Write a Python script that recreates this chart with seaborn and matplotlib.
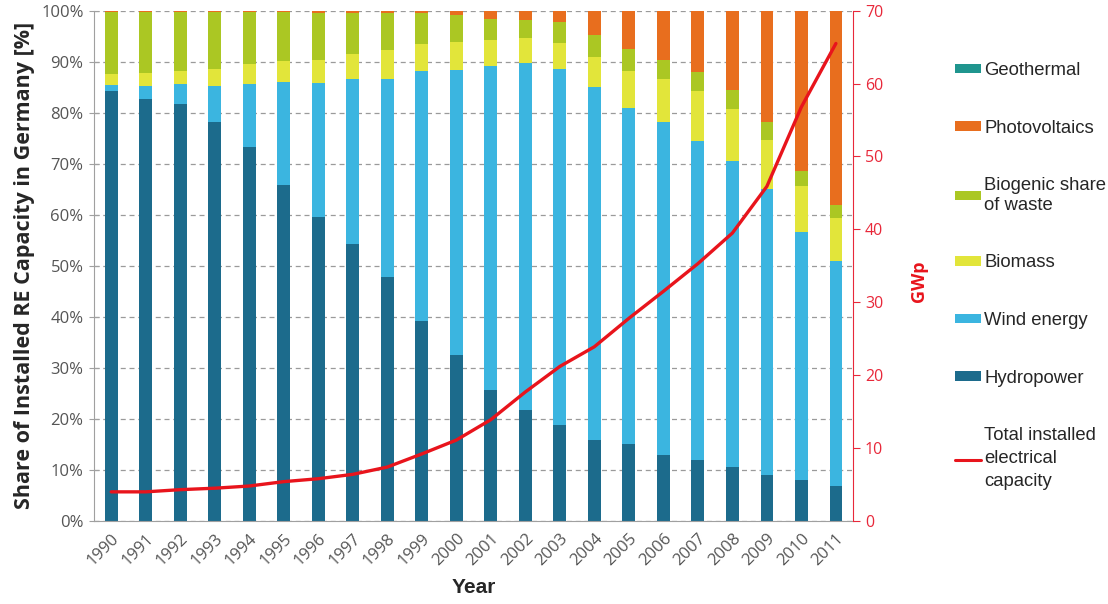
import numpy as np
import pandas as pd
import matplotlib
matplotlib.use('Agg')
import matplotlib.pyplot as plt
import seaborn as sns
from matplotlib.patches import Patch
from matplotlib.lines import Line2D

years = [str(y) for y in range(1990, 2012)]

# shares in % of installed RE capacity
hydropower = [84.3, 82.6, 81.8, 78.1, 73.2, 65.8, 59.6, 54.3, 47.9, 39.1, 32.5,
              25.7, 21.8, 18.9, 15.9, 15.0, 13.0, 11.9, 10.6, 9.0, 8.0, 6.9]
wind = [1.2, 2.7, 3.9, 7.2, 12.5, 20.3, 26.3, 32.3, 38.7, 49.1, 55.8,
        63.5, 68.0, 69.6, 69.1, 65.9, 65.2, 62.6, 59.9, 56.0, 48.7, 44.1]
biomass = [2.0, 2.4, 2.5, 3.3, 3.8, 4.1, 4.5, 4.9, 5.7, 5.2, 5.6,
           5.1, 4.9, 5.1, 6.0, 7.2, 8.4, 9.7, 10.2, 9.7, 9.0, 8.3]
biogenic = [12.3, 12.1, 11.6, 11.2, 10.3, 9.5, 9.2, 8.1, 7.2, 6.1, 5.2,
            4.1, 3.5, 4.1, 4.2, 4.3, 3.8, 3.7, 3.7, 3.5, 2.8, 2.6]
photovoltaics = [0.2, 0.2, 0.2, 0.2, 0.2, 0.3, 0.4, 0.4, 0.5, 0.5, 0.9,
                 1.6, 1.8, 2.3, 4.7, 7.5, 9.5, 12.0, 15.5, 21.7, 31.4, 38.0]
geothermal = [0.0, 0.0, 0.0, 0.0, 0.0, 0.0, 0.0, 0.0, 0.0, 0.0, 0.0,
              0.0, 0.0, 0.0, 0.1, 0.1, 0.1, 0.1, 0.1, 0.1, 0.1, 0.1]

# total installed electrical capacity, GWp
total_gwp = [4.0, 4.0, 4.3, 4.5, 4.8, 5.4, 5.8, 6.4, 7.4, 9.2, 11.1,
             13.9, 17.7, 21.2, 23.9, 27.8, 31.5, 35.3, 39.5, 45.9, 56.8, 65.5]

series = [
    ('Hydropower', hydropower, '#1c6b8c'),
    ('Wind energy', wind, '#3bb5e0'),
    ('Biomass', biomass, '#e2e53a'),
    ('Biogenic share\nof waste', biogenic, '#abc723'),
    ('Photovoltaics', photovoltaics, '#e86e1e'),
    ('Geothermal', geothermal, '#1f958e'),
]

RED = '#e8141c'
TICK_GREY = '#555555'

sns.set_style('white')
plt.rcParams['font.family'] = ['Liberation Sans', 'DejaVu Sans']

fig = plt.figure(figsize=(11.08, 6.04), dpi=100)
ax = fig.add_axes([0.0848, 0.1374, 0.6852, 0.8449])

# stacked bars: draw cumulative totals from top layer down so the lower ones cover
cum = np.cumsum([s[1] for s in series], axis=0)
for (name, vals, color), top in reversed(list(zip(series, cum))):
    df = pd.DataFrame({'Year': years, 'Share': top})
    sns.barplot(data=df, x='Year', y='Share', color=color, width=0.37,
                saturation=1, ax=ax, linewidth=0)

ax.set_xlim(-0.5, len(years) - 0.5)
ax.set_ylim(0, 100)
ax.set_yticks(np.arange(0, 101, 10))
ax.set_yticklabels([f'{v}%' for v in range(0, 101, 10)])
ax.yaxis.grid(True, linestyle=(0, (4, 3)), color='#9a9a9a', linewidth=0.9)
ax.set_axisbelow(True)
ax.set_xticks(range(len(years)))
ax.set_xticklabels(years, rotation=45, ha='right', rotation_mode='anchor',
                   fontsize=12, color=TICK_GREY, family='Open Sans')
ax.set_xticks(np.arange(-0.5, len(years), 1), minor=True)
ax.tick_params(axis='x', which='major', length=0, pad=7)
ax.tick_params(axis='x', which='minor', length=5, color='#a0a0a0', width=1)
ax.tick_params(axis='y', length=7, direction='inout', color='#a0a0a0',
               labelsize=12, labelcolor=TICK_GREY, pad=4)
for lbl in ax.get_yticklabels():
    lbl.set_family('Open Sans')
for side in ['top', 'right']:
    ax.spines[side].set_visible(False)
for side in ['left', 'bottom']:
    ax.spines[side].set_color('#a0a0a0')
ax.set_xlabel('Year', fontsize=15, fontweight='bold', labelpad=6)
ax.set_ylabel('Share of Installed RE Capacity in Germany [%]', fontsize=15.5,
              fontweight='bold', labelpad=4, family='Open Sans')

ax2 = ax.twinx()
sns.lineplot(x=np.arange(len(years)), y=total_gwp, color=RED,
             linewidth=2.4, ax=ax2)
ax2.set_ylim(0, 70)
ax2.set_yticks(np.arange(0, 71, 10))
ax2.tick_params(axis='y', colors='#e8283a', length=5, labelsize=11.5)
for lbl in ax2.get_yticklabels():
    lbl.set_family('Open Sans')
ax2.spines['right'].set_color('#e8283a')
for side in ['top', 'left', 'bottom']:
    ax2.spines[side].set_visible(False)
ax2.set_ylabel('GWp', color=RED, fontsize=13, fontweight='bold',
               labelpad=16, family='Open Sans')
ax2.yaxis.set_label_coords(1.075, 0.47)
ax2.set_xlim(-0.5, len(years) - 0.5)

handles = [Patch(facecolor=c, edgecolor='none', label=n)
           for n, _, c in reversed(series)]
handles.append(Line2D([0], [0], color=RED, linewidth=2.2,
                      label='Total installed\nelectrical\ncapacity'))
leg = fig.legend(handles=handles, loc='upper left',
                 bbox_to_anchor=(0.8466, 0.925), frameon=False, fontsize=13.3,
                 handlelength=1.4, handleheight=0.4, handletextpad=0.2,
                 labelspacing=2.2)
leg.get_texts()[-1].set_linespacing(1.45)

fig.savefig('out.png', dpi=100)
